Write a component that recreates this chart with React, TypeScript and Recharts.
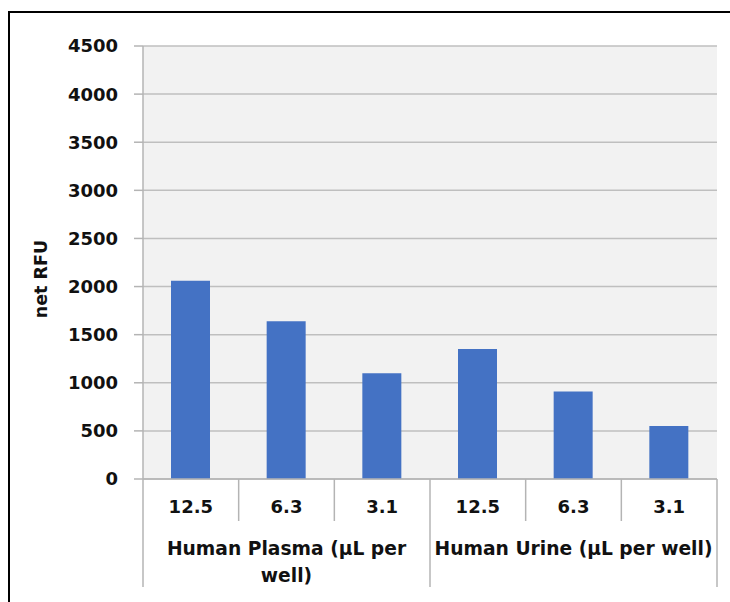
import React from 'react';
import { BarChart, Bar, XAxis, YAxis, CartesianGrid } from 'recharts';

const doses = ['12.5', '6.3', '3.1', '12.5', '6.3', '3.1'];
const groups = ['Human Plasma (µL per well)', 'Human Plasma (µL per well)', 'Human Plasma (µL per well)', 'Human Urine (µL per well)', 'Human Urine (µL per well)', 'Human Urine (µL per well)'];
const netRFU = [2060, 1640, 1100, 1350, 910, 550];
const yTicks = [0, 500, 1000, 1500, 2000, 2500, 3000, 3500, 4000, 4500];
const yLabel = 'net RFU';

const data = doses.map((d, i) => ({ key: i, dose: d, group: groups[i], value: netRFU[i] }));

const CHART_W = 730;
const CHART_H = 602;
const MARGIN = { top: 46, right: 13, bottom: 15, left: 0 };
const Y_W = 143;
const X_H = 108;
const BAND = (CHART_W - MARGIN.left - MARGIN.right - Y_W) / data.length;
const FONT = '"DejaVu Sans", Verdana, sans-serif';
const LINE = '#b4b4b4';
const GROUP_FONT_SIZE = 18.7;

let measureCtx: CanvasRenderingContext2D | null = null;
function measure(s: string): number {
  if (typeof document === 'undefined') return s.length * GROUP_FONT_SIZE * 0.62;
  if (!measureCtx) {
    const c = document.createElement('canvas');
    measureCtx = c.getContext('2d');
  }
  if (!measureCtx) return s.length * GROUP_FONT_SIZE * 0.62;
  measureCtx.font = `bold ${GROUP_FONT_SIZE}px ${FONT}`;
  return measureCtx.measureText(s).width;
}

function wrap(s: string, maxW: number): string[] {
  const words = s.split(' ');
  const lines: string[] = [];
  let cur = '';
  for (const w of words) {
    const test = cur ? cur + ' ' + w : w;
    if (cur && measure(test) > maxW) {
      lines.push(cur);
      cur = w;
    } else {
      cur = test;
    }
  }
  if (cur) lines.push(cur);
  return lines;
}

const DoseTick = (props: any) => {
  const { x, y, index } = props;
  const d = data[index];
  if (!d) return null;
  const perGroup = 3;
  const posInGroup = index % perGroup;
  const isGroupEnd = posInGroup === perGroup - 1;
  const lines = posInGroup === 1 ? wrap(d.group, BAND * 3 - 6) : [];
  return (
    <g>
      <text x={x} y={y + 34} textAnchor="middle" fontFamily={FONT} fontWeight="bold" fontSize={18} fill="#111">
        {d.dose}
      </text>
      {index === 0 && (
        <line x1={x - BAND / 2} x2={x - BAND / 2} y1={y} y2={y + X_H} stroke={LINE} strokeWidth={1.5} />
      )}
      <line x1={x + BAND / 2} x2={x + BAND / 2} y1={y} y2={y + (isGroupEnd ? X_H : 42)} stroke={LINE} strokeWidth={1.5} />
      {lines.map((ln, i) => (
        <text
          key={i}
          x={x}
          y={y + 76 + i * 27}
          textAnchor="middle"
          fontFamily={FONT}
          fontWeight="bold"
          fontSize={GROUP_FONT_SIZE}
          fill="#111"
        >
          {ln}
        </text>
      ))}
    </g>
  );
};

const YLabel = () => (
  <text
    x={47}
    y={279}
    transform="rotate(-90, 47, 279)"
    textAnchor="middle"
    fontFamily={FONT}
    fontWeight="bold"
    fontSize={17.5}
    fill="#111"
  >
    {yLabel}
  </text>
);

export default function App() {
  return (
    <div style={{ position: 'absolute', left: 0, top: 0, width: CHART_W, height: CHART_H, overflow: 'hidden', background: '#fff' }}>
      <div
        style={{
          position: 'absolute',
          left: 8,
          top: 11,
          width: 2000,
          height: 2000,
          borderLeft: '2.5px solid #000',
          borderTop: '2.5px solid #000',
        }}
      />
      <div style={{ position: 'absolute', left: 0, top: 0 }}>
        <BarChart width={CHART_W} height={CHART_H} data={data} margin={MARGIN}>
          <CartesianGrid vertical={false} fill="#f2f2f2" stroke="#bfbfbf" strokeWidth={1.5} />
          <XAxis
            dataKey="key"
            height={X_H}
            tickLine={false}
            tickSize={0}
            tickMargin={0}
            axisLine={{ stroke: LINE, strokeWidth: 1.5 }}
            tick={<DoseTick />}
            interval={0}
          />
          <YAxis
            width={Y_W}
            domain={[0, 4500]}
            ticks={yTicks}
            interval={0}
            tickSize={9}
            tickMargin={16}
            tickLine={{ stroke: LINE, strokeWidth: 1.5 }}
            axisLine={{ stroke: LINE, strokeWidth: 1.5 }}
            tick={{ fontFamily: FONT, fontWeight: 'bold', fontSize: 18, fill: '#111' }}
            label={<YLabel />}
          />
          <Bar dataKey="value" fill="#4472c4" barSize={39} isAnimationActive={false} />
        </BarChart>
      </div>
    </div>
  );
}
